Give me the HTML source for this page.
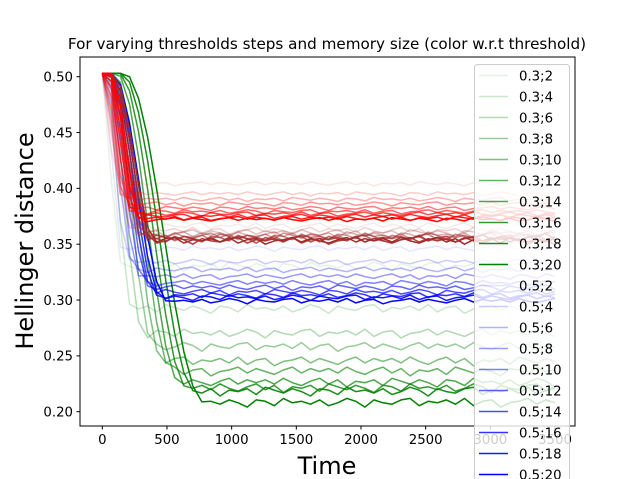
<!DOCTYPE html>
<html><head><meta charset="utf-8"><style>
html,body{margin:0;padding:0;background:#fff;overflow:hidden;width:639px;height:479px;}
svg{display:block;overflow:hidden;font-family:"DejaVu Sans","Liberation Sans",sans-serif;}
</style></head><body>
<svg id="chart" width="639" height="479" viewBox="0 0 639 479" xmlns="http://www.w3.org/2000/svg">
<text x="327" y="49" font-size="15.2" text-anchor="middle" fill="#000">For varying thresholds steps and memory size (color w.r.t threshold)</text>
<g id="lines"></g>
<rect x="80" y="57" width="495" height="369" fill="none" stroke="#000" stroke-width="1"/>
<g id="xaxis"></g>
<g id="yaxis"></g>
<text x="327" y="474" font-size="24" text-anchor="middle">Time</text>
<text transform="translate(33,241) rotate(-90)" font-size="24" text-anchor="middle">Hellinger distance</text>
<g id="legend"></g>
</svg>
<script>
const groupNames = ['0.3','0.5','0.9','0.7'];
const groupColors = ['0,128,0','0,0,255','165,42,42','255,0,0'];
const memorySizes = [2,4,6,8,10,12,14,16,18,20];
const startValue = 0.503;
const greenPlateau = [0.330,0.292,0.270,0.258,0.245,0.236,0.226,0.221,0.218,0.208];
const greenDropStart = [0,10,30,50,70,90,110,130,150,170];
const greenDropEnd = [130,230,320,400,470,540,600,660,720,790];
const bluePlateau = [0.346,0.334,0.327,0.321,0.315,0.311,0.307,0.304,0.302,0.299];
const blueDropStart = [0,5,10,20,30,40,50,60,70,80];
const blueDropEnd = [150,200,250,290,330,370,400,430,460,500];
const brownPlateau = [0.366,0.362,0.360,0.358,0.357,0.356,0.355,0.354,0.353,0.353];
const brownDropStart = [0,0,10,20,30,40,50,60,70,80];
const brownDropEnd = [200,230,260,290,310,330,350,370,390,410];
const redPlateau = [0.404,0.395,0.390,0.386,0.382,0.379,0.377,0.375,0.373,0.372];
const redDropStart = [0,0,0,10,20,30,40,50,60,70];
const redDropEnd = [110,140,160,180,200,220,240,260,280,300];
const noise = [0.002,-0.001,0.003,0.000,-0.002,0.001,0.003,-0.001,0.002,-0.003,0.001,0.000,0.002,-0.002,0.003,0.001,-0.001,0.002,0.000,-0.003,0.002,0.001,-0.002,0.003,0.000,0.001,-0.001,0.002,-0.002,0.000,0.003,0.001,-0.003,0.002,0.000,-0.001,0.002,0.003,-0.002,0.001,0.000,0.002,-0.001,0.003,-0.002,0.001,0.002,-0.003,0.000,0.001,0.003,-0.001,0.002,0.000,-0.002,0.001,0.003,-0.001,0.002,0.000];
const xTicks = [0,500,1000,1500,2000,2500,3000,3500];
const yTicks = [0.20,0.25,0.30,0.35,0.40,0.45,0.50];
const tMax = 3500, tStep = 70;

const NS='http://www.w3.org/2000/svg';
function xS(t){return 102.3 + t*(555-102.3)/3500;}
function yS(v){return 76.7 + (0.50-v)*(411.7-76.7)/0.30;}
function mk(tag,attrs,parent){const e=document.createElementNS(NS,tag);for(const k in attrs)e.setAttribute(k,attrs[k]);parent.appendChild(e);return e;}

const groups = [
 {p:greenPlateau,s:greenDropStart,e:greenDropEnd,amp:1.3},
 {p:bluePlateau,s:blueDropStart,e:blueDropEnd,amp:0.8},
 {p:brownPlateau,s:brownDropStart,e:brownDropEnd,amp:1.0},
 {p:redPlateau,s:redDropStart,e:redDropEnd,amp:0.6}
];
const linesG=document.getElementById('lines');
groups.forEach((g,gi)=>{
  memorySizes.forEach((m,i)=>{
    let pts=[];
    let k=0;
    for(let t=0;t<=tMax;t+=tStep){
      let v;
      if(t<=g.s[i]) v=startValue;
      else if(t>=g.e[i]) v=g.p[i]+noise[(k+i*7+gi*13)%noise.length]*g.amp;
      else{const s=(t-g.s[i])/(g.e[i]-g.s[i]);const f=1-(0.5-0.5*Math.cos(Math.PI*s));v=g.p[i]+(startValue-g.p[i])*f;}
      pts.push(xS(t).toFixed(1)+','+yS(v).toFixed(1));
      k++;
    }
    const pl=mk('polyline',{points:pts.join(' '),fill:'none',stroke:'rgba('+groupColors[gi]+','+((i+1)/10)+')','stroke-width':1.5,'stroke-linejoin':'round'},linesG);
    
    
  });
});

const xa=document.getElementById('xaxis');
xTicks.forEach(t=>{
  const l=mk('line',{x1:xS(t),x2:xS(t),y1:426,y2:429.5,stroke:'#000'},xa);
  
  
  const tx=mk('text',{x:xS(t),y:444,'font-size':13.3,'text-anchor':'middle'},xa);
  tx.textContent=t;
  
  
});
const ya=document.getElementById('yaxis');
yTicks.forEach(v=>{
  const l=mk('line',{x1:76.5,x2:80,y1:yS(v),y2:yS(v),stroke:'#000'},ya);
  
  
  const tx=mk('text',{x:73,y:yS(v)+4.8,'font-size':13.3,'text-anchor':'end'},ya);
  tx.textContent=v.toFixed(2);
  
  
});

const lg=document.getElementById('legend');
const box=mk('rect',{x:474.5,y:64.5,width:95,height:420,rx:3,fill:'rgba(255,255,255,0.8)',stroke:'#ccc'},lg);


let idx=0;
[0,1].forEach(gi=>{
  memorySizes.forEach((m,i)=>{
    const y=75.5+idx*21;
    const l=mk('line',{x1:479,x2:508,y1:y,y2:y,stroke:'rgba('+groupColors[gi]+','+((i+1)/10)+')','stroke-width':1.5},lg);
    
    
    const tx=mk('text',{x:519,y:y+5,'font-size':13.3},lg);
    tx.textContent=groupNames[gi]+';'+m;
    
    
    idx++;
  });
});
</script>
</body></html>
